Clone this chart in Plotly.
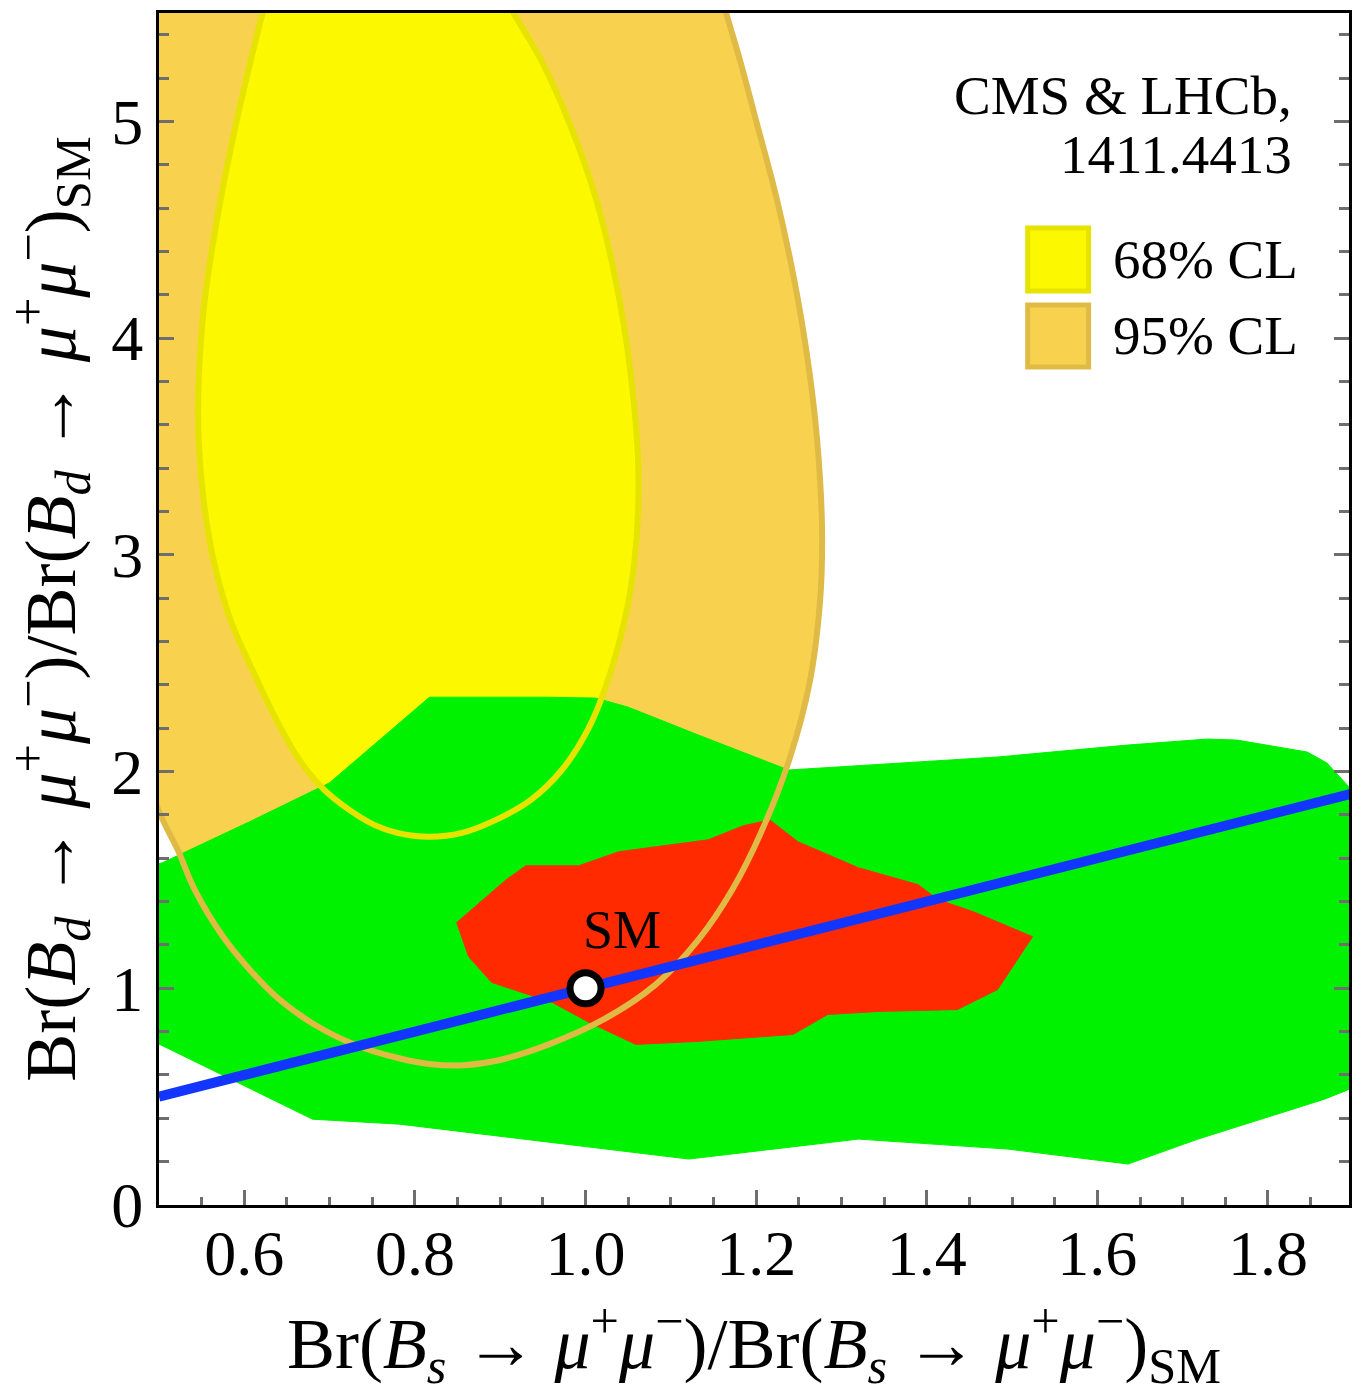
import plotly.graph_objects as go

# ---------------- data ----------------
# 95% CL region boundary (CMS & LHCb); points above y=5.5 / left of x=0.5 lie outside the frame
cl95_x = [0.8400, 0.9336, 1.0037, 1.0528, 1.0949, 1.1242, 1.1475,
          1.1651, 1.1815, 1.2002, 1.2248, 1.2493, 1.2668, 1.2750, 1.2774, 1.2750, 1.2633,
          1.2387, 1.2071, 1.1720, 1.1324, 1.0821, 1.0212, 0.9569, 0.8984, 0.8575, 0.8166,
          0.7815, 0.7289, 0.6821, 0.6412, 0.6061, 0.5733, 0.5418, 0.5219, 0.5044,
          0.4857, 0.4623, 0.4389, 0.4190, 0.4073, 0.4026, 0.4049, 0.4143, 0.4307, 0.4540,
          0.4891, 0.5477, 0.6178, 0.7231]
cl95_y = [7.095, 6.980, 6.796, 6.565, 6.289, 6.013, 5.737,
          5.497, 5.276, 5.000, 4.632, 4.171, 3.711, 3.343, 3.066, 2.790, 2.422,
          2.053, 1.731, 1.455, 1.225, 1.017, 0.856, 0.741, 0.668, 0.645, 0.651,
          0.677, 0.741, 0.833, 0.948, 1.087, 1.248, 1.455, 1.639, 1.777,
          1.961, 2.238, 2.606, 3.066, 3.527, 3.987, 4.448, 4.908, 5.368, 5.829,
          6.289, 6.703, 6.933, 7.071]

# 68% CL region boundary
cl68_x = [0.7523, 0.8049, 0.8423, 0.8809,
          0.9160, 0.9488, 0.9803, 1.0131, 1.0400, 1.0564, 1.0622, 1.0575, 1.0458, 1.0236,
          1.0026, 0.9722, 0.9359, 0.8950, 0.8552, 0.8166, 0.7792, 0.7523, 0.7230, 0.6938,
          0.6646, 0.6377, 0.6096, 0.5839, 0.5640, 0.5523, 0.5465, 0.5465, 0.5535, 0.5698,
          0.5909, 0.6073, 0.6213,
          0.6388, 0.6610, 0.6938]
cl68_y = [6.335, 6.243, 6.013, 5.737,
          5.497, 5.276, 5.000, 4.632, 4.171, 3.711, 3.343, 2.974, 2.698, 2.390,
          2.192, 2.007, 1.869, 1.777, 1.717, 1.699, 1.717, 1.754, 1.823, 1.915,
          2.053, 2.238, 2.468, 2.698, 2.974, 3.250, 3.527, 3.803, 4.171, 4.586,
          5.000, 5.276, 5.497,
          5.737, 5.967, 6.197]

# green (model scan, outer) region
green_x = [0.489, 0.504, 0.606, 0.700, 0.817, 0.953, 1.012, 1.050, 1.132, 1.238, 1.483,
           1.635, 1.729, 1.764, 1.846, 1.869, 1.895, 1.910, 1.910, 1.895, 1.866, 1.718,
           1.636, 1.495, 1.320, 1.121, 0.782, 0.680, 0.501, 0.489]
green_y = [1.565, 1.579, 1.768, 1.948, 2.343, 2.343, 2.339, 2.297, 2.169, 2.007, 2.067,
           2.122, 2.150, 2.145, 2.090, 2.040, 1.929, 1.823, 0.557, 0.534, 0.488, 0.304,
           0.189, 0.258, 0.304, 0.212, 0.373, 0.396, 0.741, 0.741]

# red (model scan, inner) region
red_x = [0.849, 0.907, 0.930, 0.992, 1.039, 1.144, 1.185, 1.216, 1.249, 1.320, 1.390,
         1.413, 1.454, 1.524, 1.483, 1.436, 1.343, 1.284, 1.243, 1.132, 1.059, 1.004,
         0.961, 0.890, 0.863]
red_y = [1.303, 1.501, 1.565, 1.565, 1.630, 1.685, 1.750, 1.777, 1.676, 1.556, 1.478,
         1.409, 1.354, 1.238, 0.994, 0.902, 0.893, 0.879, 0.787, 0.755, 0.741, 0.843,
         0.935, 1.027, 1.146]

# MFV line Br_d/Br_d,SM = Br_s/Br_s,SM
mfv_x = [0.5, 1.9]
mfv_y = [0.5, 1.9]

# Standard Model point
sm_x = [1.0]
sm_y = [1.0]

x_tickvals = [0.6, 0.8, 1.0, 1.2, 1.4, 1.6, 1.8]
x_ticktext = ["0.6", "0.8", "1.0", "1.2", "1.4", "1.6", "1.8"]
y_tickvals = [0, 1, 2, 3, 4, 5]
y_ticktext = ["0", "1", "2", "3", "4", "5"]

legend_labels = ["68% CL", "95% CL"]
source_text = ["CMS &amp; LHCb,", "1411.4413"]

# ---------------- styles ----------------
ORANGE = "#F8D24E"
ORANGE_EDGE = "#DFBB45"
YELLOW = "#FCF800"
YELLOW_EDGE = "#E6E300"
GREEN = "#00F200"
RED = "#FF2A00"
BLUE = "#1236FF"
FONT = "Liberation Serif"
TICKC = "#6E6E6E"

fig = go.Figure()


def closed(a):
    return list(a) + [a[0]]


fig.add_trace(go.Scatter(x=closed(cl95_x), y=closed(cl95_y), mode="lines", fill="toself",
                         fillcolor=ORANGE, line=dict(width=0, color="rgba(0,0,0,0)", shape="spline"),
                         hoverinfo="skip", showlegend=False))
fig.add_trace(go.Scatter(x=closed(cl68_x), y=closed(cl68_y), mode="lines", fill="toself",
                         fillcolor=YELLOW, line=dict(width=0, color="rgba(0,0,0,0)", shape="spline"),
                         hoverinfo="skip", showlegend=False))
fig.add_trace(go.Scatter(x=closed(green_x), y=closed(green_y), mode="lines", fill="toself",
                         fillcolor=GREEN, line=dict(width=1, color=GREEN),
                         hoverinfo="skip", showlegend=False))
fig.add_trace(go.Scatter(x=closed(red_x), y=closed(red_y), mode="lines", fill="toself",
                         fillcolor=RED, line=dict(width=1, color=RED),
                         hoverinfo="skip", showlegend=False))
fig.add_trace(go.Scatter(x=closed(cl95_x), y=closed(cl95_y), mode="lines",
                         line=dict(width=6, color=ORANGE_EDGE, shape="spline"),
                         hoverinfo="skip", showlegend=False))
fig.add_trace(go.Scatter(x=closed(cl68_x), y=closed(cl68_y), mode="lines",
                         line=dict(width=6, color=YELLOW_EDGE, shape="spline"),
                         hoverinfo="skip", showlegend=False))
fig.add_trace(go.Scatter(x=mfv_x, y=mfv_y, mode="lines", line=dict(width=10, color=BLUE),
                         hoverinfo="skip", showlegend=False))
fig.add_trace(go.Scatter(x=sm_x, y=sm_y, mode="markers",
                         marker=dict(size=31, color="white", line=dict(width=7, color="black")),
                         hoverinfo="skip", showlegend=False))

# SM label
fig.add_annotation(x=sm_x[0], y=sm_y[0], text="SM", showarrow=False, xanchor="left",
                   yanchor="bottom", xshift=-5, yshift=26,
                   font=dict(family=FONT, size=54, color="black"))

# source text
fig.add_annotation(xref="paper", yref="paper", x=0.954, y=0.931, text=source_text[0],
                   showarrow=False, xanchor="right", yanchor="middle",
                   font=dict(family=FONT, size=55, color="black"))
fig.add_annotation(xref="paper", yref="paper", x=0.954, y=0.881, text=source_text[1],
                   showarrow=False, xanchor="right", yanchor="middle",
                   font=dict(family=FONT, size=55, color="black"))

# legend boxes
box_y = [(0.7668, 0.8196), (0.7031, 0.7550)]
box_fill = [YELLOW, ORANGE]
box_edge = [YELLOW_EDGE, ORANGE_EDGE]
for (y0, y1), fc, ec, lab in zip(box_y, box_fill, box_edge, legend_labels):
    fig.add_shape(type="rect", xref="paper", yref="paper", x0=0.7300, x1=0.7812, y0=y0, y1=y1,
                  fillcolor=fc, line=dict(color=ec, width=5), layer="above")
    fig.add_annotation(xref="paper", yref="paper", x=0.8000, y=(y0 + y1) / 2, text=lab,
                       showarrow=False, xanchor="left", yanchor="middle",
                       font=dict(family=FONT, size=55, color="black"))

xtitle = ("Br(<i>B</i><sub><i>s</i></sub> → <i>μ</i><sup>+</sup><i>μ</i><sup>−</sup>)/"
          "Br(<i>B</i><sub><i>s</i></sub> → <i>μ</i><sup>+</sup><i>μ</i><sup>−</sup>)<sub>SM</sub>")
ytitle = ("Br(<i>B</i><sub><i>d</i></sub> → <i>μ</i><sup>+</sup><i>μ</i><sup>−</sup>)/"
          "Br(<i>B</i><sub><i>d</i></sub> → <i>μ</i><sup>+</sup><i>μ</i><sup>−</sup>)<sub>SM</sub>")

fig.update_layout(
    width=1352, height=1394,
    margin=dict(l=159, r=0, t=13, b=188),
    paper_bgcolor="white", plot_bgcolor="white",
    showlegend=False,
    font=dict(family=FONT, color="black"),
    xaxis=dict(range=[0.5, 1.895], tickmode="array", tickvals=x_tickvals, ticktext=x_ticktext,
               ticks="inside", ticklen=15, tickwidth=3, tickcolor=TICKC,
               minor=dict(tickmode="linear", tick0=0.5, dtick=0.05, ticks="inside",
                          ticklen=8, tickwidth=3, tickcolor=TICKC),
               showline=True, linecolor="black", linewidth=3, mirror=True,
               showgrid=False, zeroline=False, ticklabelstandoff=-10,
               tickfont=dict(family=FONT, size=64, color="black"),
               title=dict(text=xtitle, font=dict(family=FONT, size=72, color="black"), standoff=55)),
    yaxis=dict(range=[0, 5.5], tickmode="array", tickvals=y_tickvals, ticktext=y_ticktext,
               ticks="inside", ticklen=15, tickwidth=3, tickcolor=TICKC,
               minor=dict(tickmode="linear", tick0=0, dtick=0.2, ticks="inside",
                          ticklen=10, tickwidth=3, tickcolor=TICKC),
               showline=True, linecolor="black", linewidth=3, mirror="ticks",
               showgrid=False, zeroline=False,
               tickfont=dict(family=FONT, size=64, color="black"),
               title=dict(text=ytitle, font=dict(family=FONT, size=72, color="black"), standoff=30)),
)

fig.write_html("out.html")
